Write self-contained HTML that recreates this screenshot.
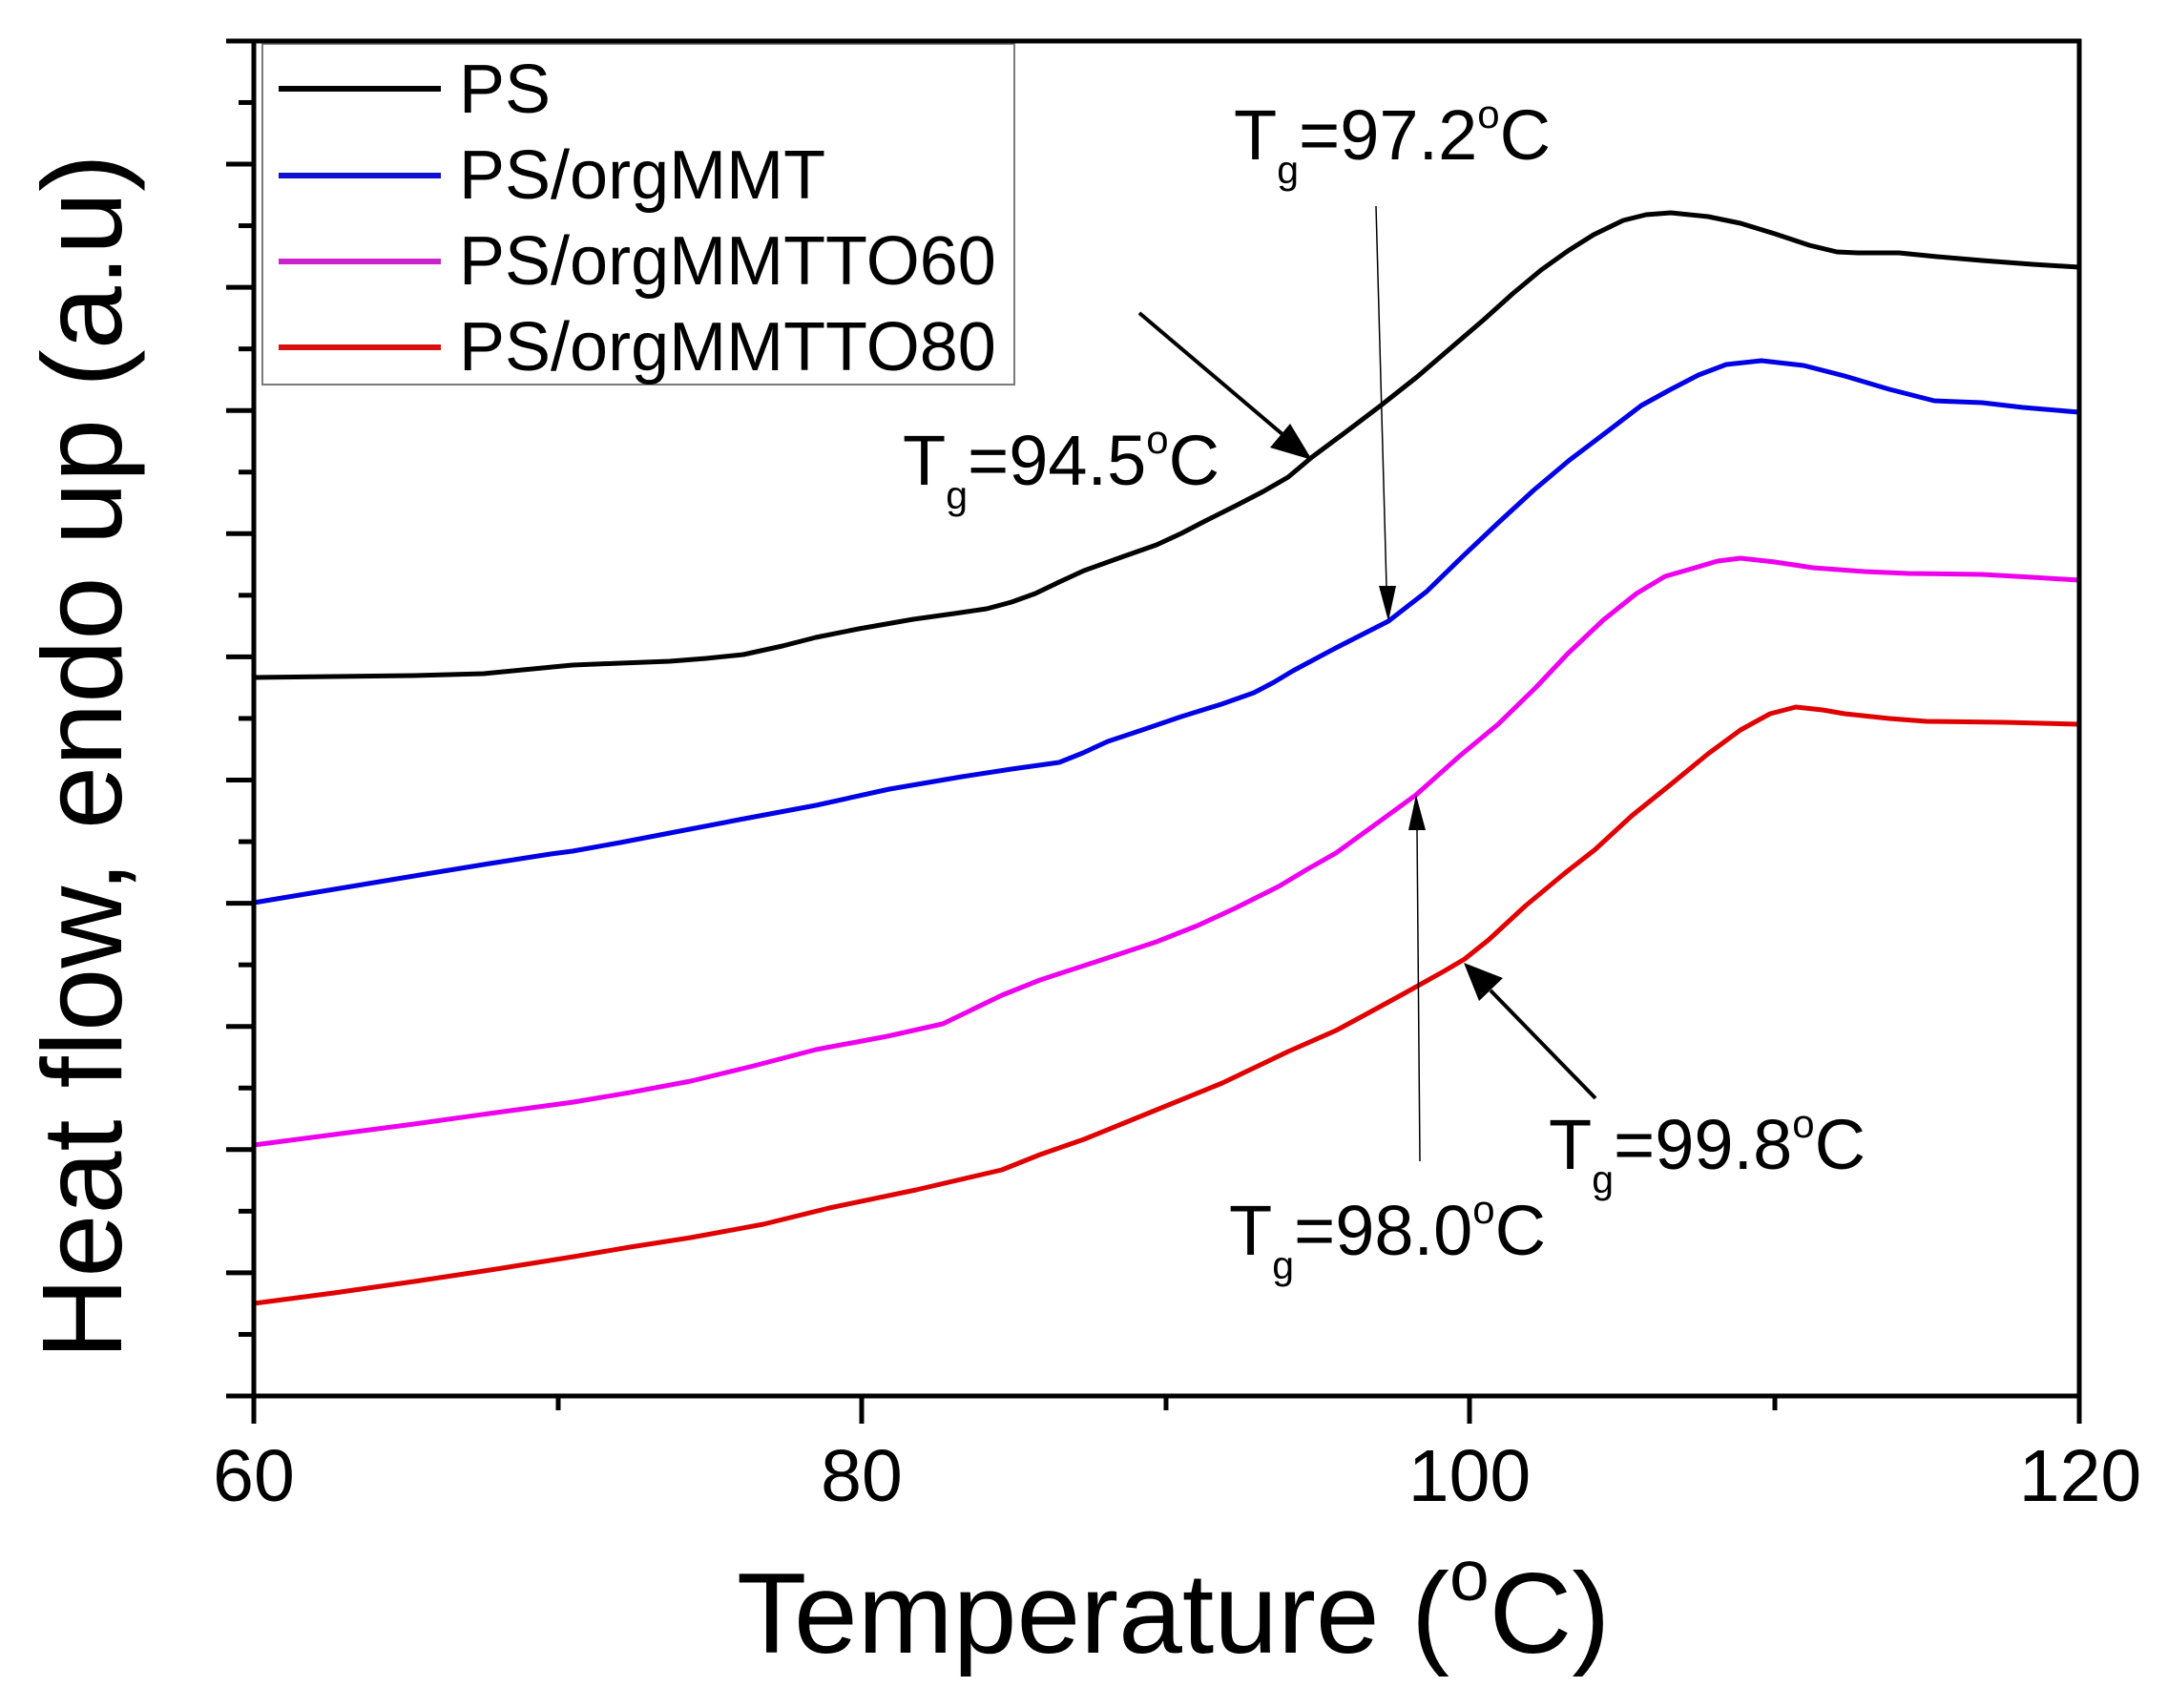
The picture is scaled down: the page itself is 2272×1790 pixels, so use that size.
<!DOCTYPE html>
<html><head><meta charset="utf-8"><style>
html,body{margin:0;padding:0;background:#fff;}
svg{display:block;}
text{font-family:"Liberation Sans",Arial,sans-serif;fill:#000;}
</style></head><body>
<svg width="2272" height="1790" viewBox="0 0 2272 1790" xmlns="http://www.w3.org/2000/svg">
<rect width="2272" height="1790" fill="#fff"/>

<!-- curves -->
<g fill="none" stroke-width="5" stroke-linejoin="round" stroke-linecap="round">
<polyline stroke="#000" points="266,710 350,709 434,708 507,706 579,699 600,697 650,695 702,693 740,690 779,686 820,677 855,668 900,659 957,649 1000,643 1034,638 1060,631 1085,622 1110,610 1136,598 1175,584 1212,571 1238,559 1263,546 1295,530 1324,515 1350,500 1375,479 1410,453 1447,425 1485,395 1520,365 1555,335 1585,308 1615,283 1643,263 1670,246 1701,231 1725,225 1751,223 1790,227 1824,234 1860,245 1896,257 1925,264 1947,265 1990,265 2030,269 2077,273 2130,277 2179,280"/>
<polyline stroke="#0000e6" points="266,900 266,946 350,932 434,918 507,906 577,895 600,892 650,883 702,873 780,858 855,844 932,827 1008,814 1060,806 1110,799 1135,789 1161,777 1200,764 1238,751 1280,738 1314,726 1335,715 1355,703 1400,679 1455,651 1495,620 1534,582 1570,548 1607,514 1645,482 1686,451 1720,425 1751,408 1780,393 1809,382 1846,378 1890,383 1933,394 1980,408 2027,420 2077,422 2120,427 2179,432"/>
<polyline stroke="#ee00ee" points="266,1200 350,1189 434,1178 520,1166 601,1155 660,1145 724,1133 790,1117 855,1100 930,1086 988,1073 1050,1043 1090,1027 1136,1012 1212,987 1255,970 1294,952 1340,929 1370,911 1400,894 1440,865 1484,833 1530,792 1570,759 1610,720 1643,685 1680,650 1715,622 1745,604 1773,596 1800,588 1824,585 1860,589 1900,595 1954,599 2000,601 2077,602 2130,605 2179,608"/>
<polyline stroke="#e00000" points="266,1366 350,1355 434,1343 520,1330 601,1317 660,1307 724,1297 800,1283 869,1266 960,1247 1050,1226 1090,1210 1136,1194 1200,1168 1281,1135 1350,1102 1400,1080 1426,1066 1470,1042 1513,1018 1535,1005 1560,985 1599,949 1640,915 1672,890 1710,855 1751,822 1790,790 1824,765 1855,748 1882,741 1910,744 1933,748 1980,753 2019,756 2100,757 2179,759"/>
</g>

<!-- arrows -->
<g stroke="#000" fill="none">
<line x1="1194" y1="328" x2="1345" y2="456" stroke-width="4"/>
<line x1="1442" y1="216" x2="1453" y2="615" stroke-width="1.5"/>
<line x1="1488" y1="1217" x2="1485" y2="869" stroke-width="1.5"/>
<line x1="1672" y1="1151" x2="1562" y2="1038" stroke-width="4"/>
</g>
<g fill="#000">
<polygon points="1375,482 1331,469 1352,444"/>
<polygon points="1455,651 1445,614 1463,614"/>
<polygon points="1484,833 1476,870 1494,870"/>
<polygon points="1534,1009 1575,1025 1550,1049"/>
</g>

<!-- legend -->
<rect x="275" y="46" width="788" height="357" fill="#fff" stroke="#7a7a7a" stroke-width="2"/>
<g stroke-width="6">
<line x1="292" y1="93" x2="462" y2="93" stroke="#000"/>
<line x1="292" y1="184" x2="462" y2="184" stroke="#1010d0"/>
<line x1="292" y1="274" x2="462" y2="274" stroke="#cc22cc"/>
<line x1="292" y1="364" x2="462" y2="364" stroke="#d81010"/>
</g>
<g font-size="72">
<text x="481" y="118">PS</text>
<text x="481" y="208">PS/orgMMT</text>
<text x="481" y="298">PS/orgMMTTO60</text>
<text x="481" y="388">PS/orgMMTTO80</text>
</g>

<!-- axes frame -->
<rect x="266" y="43" width="1913" height="1420" fill="none" stroke="#000" stroke-width="5"/>
<g stroke="#000" stroke-width="5">
<line x1="237" y1="1463" x2="266" y2="1463"/>
<line x1="250" y1="1398.45" x2="266" y2="1398.45"/>
<line x1="237" y1="1333.9" x2="266" y2="1333.9"/>
<line x1="250" y1="1269.35" x2="266" y2="1269.35"/>
<line x1="237" y1="1204.8" x2="266" y2="1204.8"/>
<line x1="250" y1="1140.25" x2="266" y2="1140.25"/>
<line x1="237" y1="1075.7" x2="266" y2="1075.7"/>
<line x1="250" y1="1011.15" x2="266" y2="1011.15"/>
<line x1="237" y1="946.6" x2="266" y2="946.6"/>
<line x1="250" y1="882.05" x2="266" y2="882.05"/>
<line x1="237" y1="817.5" x2="266" y2="817.5"/>
<line x1="250" y1="752.95" x2="266" y2="752.95"/>
<line x1="237" y1="688.4" x2="266" y2="688.4"/>
<line x1="250" y1="623.85" x2="266" y2="623.85"/>
<line x1="237" y1="559.3" x2="266" y2="559.3"/>
<line x1="250" y1="494.75" x2="266" y2="494.75"/>
<line x1="237" y1="430.2" x2="266" y2="430.2"/>
<line x1="250" y1="365.65" x2="266" y2="365.65"/>
<line x1="237" y1="301.1" x2="266" y2="301.1"/>
<line x1="250" y1="236.55" x2="266" y2="236.55"/>
<line x1="237" y1="172" x2="266" y2="172"/>
<line x1="250" y1="107.45" x2="266" y2="107.45"/>
<line x1="237" y1="43" x2="266" y2="43"/>
<line x1="266" y1="1463" x2="266" y2="1492"/>
<line x1="585" y1="1463" x2="585" y2="1478"/>
<line x1="903" y1="1463" x2="903" y2="1492"/>
<line x1="1222" y1="1463" x2="1222" y2="1478"/>
<line x1="1540" y1="1463" x2="1540" y2="1492"/>
<line x1="1860" y1="1463" x2="1860" y2="1478"/>
<line x1="2179" y1="1463" x2="2179" y2="1492"/>
</g>

<!-- tick labels -->
<g font-size="77" text-anchor="middle">
<text x="266" y="1573">60</text>
<text x="903" y="1573">80</text>
<text x="1540" y="1573">100</text>
<text x="2180" y="1573">120</text>
</g>

<!-- axis titles -->
<text x="772" y="1732" font-size="120">Temperature (<tspan font-size="75" dy="-55">o</tspan><tspan font-size="120" dy="55">C)</tspan></text>
<text transform="translate(127,793) rotate(-90)" text-anchor="middle" font-size="119">Heat flow, endo up (a.u)</text>

<!-- annotations -->
<g font-size="74">
<text x="946" y="508">T<tspan font-size="41" dy="25">g</tspan><tspan font-size="74" dy="-25">=94.5</tspan><tspan font-size="42" dy="-33">o</tspan><tspan font-size="74" dy="33">C</tspan></text>
<text x="1293" y="167">T<tspan font-size="41" dy="25">g</tspan><tspan font-size="74" dy="-25">=97.2</tspan><tspan font-size="42" dy="-33">o</tspan><tspan font-size="74" dy="33">C</tspan></text>
<text x="1288" y="1315">T<tspan font-size="41" dy="25">g</tspan><tspan font-size="74" dy="-25">=98.0</tspan><tspan font-size="42" dy="-33">o</tspan><tspan font-size="74" dy="33">C</tspan></text>
<text x="1623" y="1225">T<tspan font-size="41" dy="25">g</tspan><tspan font-size="74" dy="-25">=99.8</tspan><tspan font-size="42" dy="-33">o</tspan><tspan font-size="74" dy="33">C</tspan></text>
</g>
</svg>
</body></html>
